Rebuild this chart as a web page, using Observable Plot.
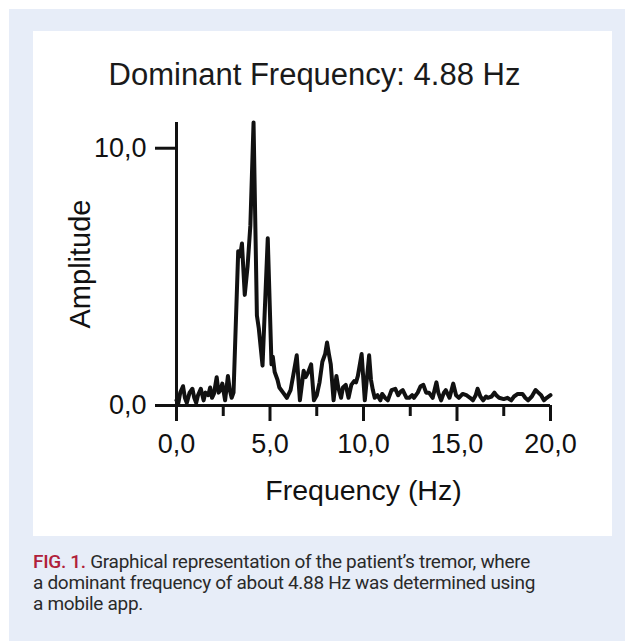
<!DOCTYPE html>
<html>
<head>
<meta charset="utf-8">
<script src="https://cdn.jsdelivr.net/npm/d3@7"></script>
<script src="https://cdn.jsdelivr.net/npm/@observablehq/plot@0.6"></script>
<style>
  html, body { margin: 0; padding: 0; background: #ffffff; }
  body { width: 625px; height: 641px; position: relative; overflow: hidden; font-family: "Liberation Sans", Arial, sans-serif; }
  #bg { position: absolute; left: 9px; top: 9px; width: 616px; height: 632px; background: #e7edf8; }
  #panel { position: absolute; left: 33px; top: 31px; width: 579px; height: 505px; background: #ffffff; }
  #title { position: absolute; left: -8px; top: 0; width: 579px; height: 81px; box-sizing: border-box; padding-top: 28px; text-align: center; font-size: 31px; line-height: 31px; color: #1a1a1a; }
  #chart { position: absolute; left: 0; top: 81px; }
  #caption { position: absolute; left: 33px; top: 551px; width: 585px; font-family: Roboto, "Liberation Sans", sans-serif; font-size: 19px; line-height: 21px; color: #2a2a2a; letter-spacing: -0.3px; white-space: nowrap; }
  #caption b { color: #b0203a; font-weight: 500; }
</style>
</head>
<body>
<div id="bg"></div>
<div id="panel">
  <div id="title">Dominant Frequency: 4.88 Hz</div>
  <div id="chart"></div>
</div>
<div id="caption"><b>FIG. 1.</b> Graphical representation of the patient’s tremor, where<br>a dominant frequency of about 4.88 Hz was determined using<br>a mobile app.</div>
<script>
const freq = [0.0,0.1,0.2,0.35,0.45,0.55,0.7,0.85,0.95,1.05,1.15,1.3,1.45,1.55,1.7,1.8,1.9,2.0,2.15,2.25,2.35,2.45,2.6,2.75,2.85,2.95,3.05,
  3.3,3.4,3.5,3.65,3.8,3.95,4.12,4.3,4.4,4.6,4.88,5.08,5.15,5.25,5.4,5.5,5.7,5.9,6.1,6.25,6.43,6.6,6.8,6.9,7.05,7.2,7.35,7.5,7.65,7.8,7.95,8.05,8.15,8.25,8.4,8.55,8.65,8.8,8.9,9.05,9.2,9.35,9.5,9.6,9.7,9.9,10.07,
  10.3,10.4,10.5,10.6,10.75,10.9,11.0,11.15,11.3,11.5,11.7,11.85,12.0,12.1,12.3,12.45,12.6,12.7,12.9,13.05,13.2,13.35,13.5,13.7,13.9,14.0,14.15,14.3,14.4,14.6,14.8,14.95,
  15.1,15.3,15.5,15.7,15.85,16.0,16.1,16.25,16.4,16.55,16.65,16.85,17.0,17.1,17.25,17.5,17.7,17.9,18.05,18.25,18.5,18.65,18.8,19.0,19.2,19.35,19.5,19.65,19.8,20.0];
const amplitude = [0.2,0.1,0.5,0.75,0.3,0.1,0.5,0.65,0.3,0.1,0.4,0.65,0.2,0.5,0.4,0.7,0.3,0.45,1.1,0.5,0.6,0.85,0.2,1.15,0.6,0.3,0.5,
  6.0,5.8,6.3,4.3,5.4,7.0,11.0,3.5,3.0,1.55,6.5,1.6,1.9,1.3,1.0,0.7,0.5,0.3,0.6,1.2,1.95,0.2,1.35,1.1,1.3,1.6,0.2,0.4,0.9,1.7,2.0,2.45,2.0,1.6,0.2,1.15,0.7,0.3,0.7,0.8,0.3,0.8,0.95,0.9,1.15,2.0,0.2,
  1.95,1.0,0.6,0.3,0.4,0.2,0.45,0.3,0.2,0.6,0.65,0.4,0.55,0.6,0.3,0.3,0.4,0.3,0.5,0.75,0.8,0.5,0.5,0.3,0.9,0.5,0.2,0.5,0.6,0.3,0.85,0.4,
  0.3,0.45,0.4,0.3,0.2,0.4,0.65,0.35,0.2,0.35,0.3,0.35,0.5,0.4,0.3,0.25,0.3,0.2,0.35,0.45,0.45,0.3,0.2,0.35,0.6,0.5,0.4,0.2,0.3,0.4];
const xTicks = [0, 5, 10, 15, 20];
const xMinorTicks = [2.5, 7.5, 12.5, 17.5];
const yTicks = [0, 10];
const xLabel = "Frequency (Hz)";
const yLabel = "Amplitude";

const data = freq.map((f, i) => ({f, a: amplitude[i]}));
const fmt = d => d.toFixed(1).replace(".", ",");
const ink = "#111111";

const chart = Plot.plot({
  width: 579,
  height: 424,
  marginLeft: 143,
  marginRight: 62,
  marginTop: 10,
  marginBottom: 131,
  style: { fontFamily: "'Liberation Sans', Arial, sans-serif", color: ink, background: "transparent", overflow: "visible" },
  x: { domain: [0, 20] },
  y: { domain: [0, 11] },
  marks: [
    Plot.line(data, { x: "f", y: "a", stroke: ink, strokeWidth: 4, strokeLinejoin: "round", strokeLinecap: "round" }),
    Plot.ruleY([0], { x1: 0, x2: 20, stroke: ink, strokeWidth: 3 }),
    Plot.ruleX([0], { y1: 0, y2: 11, stroke: ink, strokeWidth: 3 }),
    Plot.axisX(xMinorTicks, { tickSize: 11, tickFormat: () => "", stroke: ink, strokeWidth: 3, label: null }),
    Plot.axisX(xTicks, { tickSize: 16, tickPadding: 12, tickFormat: fmt, fontSize: 27, stroke: ink, strokeWidth: 3, label: null, fill: ink }),
    Plot.axisY(yTicks, { tickSize: 21, tickPadding: 9, tickFormat: fmt, fontSize: 27, stroke: ink, strokeWidth: 3, label: null, fill: ink }),
    Plot.text([xLabel], { frameAnchor: "bottom", dy: 85, lineAnchor: "middle", fontSize: 28.5, fill: ink }),
    Plot.text([yLabel], { frameAnchor: "left", dx: -96, rotate: -90, textAnchor: "middle", lineAnchor: "middle", fontSize: 29, fill: ink })
  ]
});
document.getElementById("chart").appendChild(chart);
</script>
</body>
</html>
